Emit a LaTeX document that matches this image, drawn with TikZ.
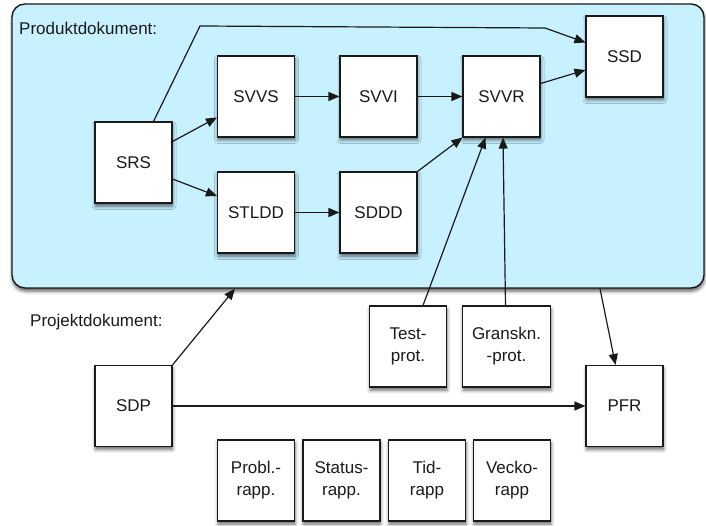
\documentclass[tikz,border=0pt]{standalone}
\usepackage{fontspec}
\setmainfont{Liberation Sans}
\usetikzlibrary{arrows.meta,shadows.blur}
\definecolor{prodfill}{RGB}{199,241,255}
\definecolor{ink}{RGB}{26,26,26}
\begin{document}
\begin{tikzpicture}[x=1pt,y=-1pt,
  every node/.style={font=\fontsize{17}{22}\selectfont, text=ink},
  docbox/.style={draw=ink, line width=1.1pt, fill=white, minimum width=77pt,
    minimum height=81pt, inner sep=0pt, align=center,
    blur shadow={shadow xshift=0.5pt, shadow yshift=-3pt, shadow blur radius=3.5pt, shadow opacity=60}},
  arr/.style={draw=ink, line width=1.2pt, -{Triangle[length=11pt,width=9pt]}},
  lbl/.style={anchor=west, inner sep=0pt}]
\useasboundingbox (0,0) rectangle (706,526);
\node[draw=ink, line width=1.4pt, fill=prodfill, rounded corners=13pt,
  minimum width=692pt, minimum height=284pt, inner sep=0pt,
  blur shadow={shadow xshift=0.5pt, shadow yshift=-3pt, shadow blur radius=3.5pt, shadow opacity=65}] (prod) at (358,146) {};
\node[lbl] (pd) at (19,28) {Produktdokument:};
\node[lbl] (pj) at (30,322) {Projektdokument:};

\node[docbox] (SRS) at (133.5,162.5) {SRS};
\node[docbox] (SVVS) at (256,96.5) {SVVS};
\node[docbox] (STLDD) at (256,212.5) {STLDD};
\node[docbox] (SVVI) at (378.5,96.5) {SVVI};
\node[docbox] (SDDD) at (378.5,212.5) {SDDD};
\node[docbox] (SVVR) at (501.5,96.5) {SVVR};
\node[docbox] (SSD) at (624.5,56.5) {SSD};
\node[docbox] (TP) at (408,346.5) {Test-\\prot.};
\node[docbox, minimum width=88pt] (GP) at (506.5,346.5) {Granskn.\\-prot.};
\node[docbox] (PFR) at (624.5,406) {PFR};
\node[docbox] (SDP) at (133.5,406) {SDP};
\node[docbox] (PR) at (256,480.5) {Probl.-\\rapp.};
\node[docbox] (ST) at (341.5,480.5) {Status-\\rapp.};
\node[docbox] (TR) at (427,480.5) {Tid-\\rapp};
\node[docbox] (VR) at (512,480.5) {Vecko-\\rapp};

\coordinate (k1) at (200,26);
\coordinate (k2) at (545,28);
\draw[arr] ([xshift=20pt]SRS.north) -- (k1) -- (k2) -- ([yshift=14pt]SSD.west);
\draw[arr] ([yshift=21pt]SRS.east) -- ([yshift=-21pt]SVVS.west);
\draw[arr] ([yshift=-16.5pt]SRS.east) -- ([yshift=16.5pt]STLDD.west);
\draw[arr] (SVVS) -- (SVVI);
\draw[arr] (STLDD) -- (SDDD);
\draw[arr] (SVVI) -- (SVVR);
\draw[arr] (SDDD.north east) -- (SVVR.south west);
\draw[arr] ([yshift=13pt]SVVR.east) -- ([yshift=-13.5pt]SSD.west);
\draw[arr] ([xshift=15pt]TP.north) -- ([xshift=-16pt]SVVR.south);
\draw[arr] ([xshift=-1pt]GP.north) -- ([xshift=1.5pt]SVVR.south);
\draw[arr] ([xshift=242pt]prod.south) -- ([xshift=-9pt]PFR.north);
\draw[arr] (SDP.north east) -- ([xshift=-123pt]prod.south);
\draw[arr] (SDP) -- (PFR);
\end{tikzpicture}
\end{document}
